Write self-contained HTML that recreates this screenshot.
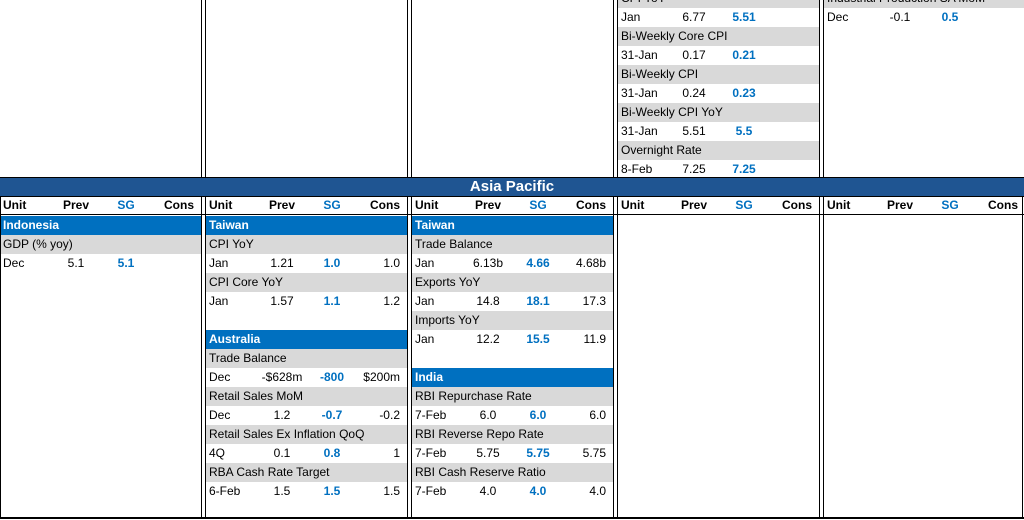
<!DOCTYPE html>
<html><head><meta charset="utf-8"><style>
body{margin:0;width:1024px;height:520px;overflow:hidden;background:#fff;font-family:"Liberation Sans",Arial,sans-serif;font-size:12px;color:#000;position:relative}
.r{position:absolute;height:19px;line-height:19px;width:201px;white-space:nowrap}
.g{background:#d9d9d9}
.b{background:#0070c0;color:#fff;font-weight:bold}
.c{position:absolute;top:0}
.sg{color:#0070c0;font-weight:bold}
.h{font-weight:bold}
.vl{position:absolute;width:1px;background:#000}
.hl{position:absolute;height:1px;background:#000;left:0;width:1024px}
</style></head><body>
<div style="position:absolute;left:0;top:177px;width:1024px;height:19px;background:#1f5592;color:#fff;font-weight:bold;font-size:15px;text-align:center;line-height:19px">Asia Pacific</div>
<div class="hl" style="top:177px"></div>
<div class="hl" style="top:196px"></div>
<div class="hl" style="top:214px"></div>
<div class="hl" style="top:517px;height:2px"></div>
<script>
var cols=[0,206,412,618,824];
function cell(parent,txt,left,align,cls){
  var s=document.createElement('span');
  s.className='c '+(cls||'');
  s.textContent=txt;
  if(align==='c'){s.style.left=(left-30)+'px';s.style.width='60px';s.style.textAlign='center';}
  else if(align==='r'){s.style.left=(left-80)+'px';s.style.width='80px';s.style.textAlign='right';}
  else s.style.left=left+'px';
  
  
  parent.appendChild(s);
}
function row(ci,y,type,vals){
  var d=document.createElement('div');
  d.className='r '+(type==='g'?'g':type==='b'?'b':'');
  d.style.left=cols[ci]+'px';d.style.top=y+'px';
  
  
  if(type==='g'||type==='b'){cell(d,vals,3,'l');}
  else{
    var hc=type==='h'?'h':'';
    cell(d,vals[0],3,'l',hc);
    cell(d,vals[1],76,'c',hc);
    cell(d,vals[2],126,'c','sg');
    cell(d,vals[3],194,'r',hc);
  }
  document.body.appendChild(d);
}
// top section
var top4=[['g','CPI YoY'],['v',['Jan','6.77','5.51','']],['g','Bi-Weekly Core CPI'],['v',['31-Jan','0.17','0.21','']],['g','Bi-Weekly CPI'],['v',['31-Jan','0.24','0.23','']],['g','Bi-Weekly CPI YoY'],['v',['31-Jan','5.51','5.5','']],['g','Overnight Rate'],['v',['8-Feb','7.25','7.25','']]];
top4.forEach(function(r,i){row(3,-11+19*i,r[0],r[1]);});
row(4,-11,'g','Industrial Production SA MoM');
row(4,8,'v',['Dec','-0.1','0.5','']);
for(var i=0;i<5;i++)row(i,196,'h',['Unit','Prev','SG','Cons']);
var c0=[['b','Indonesia'],['g','GDP (% yoy)'],['v',['Dec','5.1','5.1','']]];
var c1=[['b','Taiwan'],['g','CPI YoY'],['v',['Jan','1.21','1.0','1.0']],['g','CPI Core YoY'],['v',['Jan','1.57','1.1','1.2']],null,['b','Australia'],['g','Trade Balance'],['v',['Dec','-$628m','-800','$200m']],['g','Retail Sales MoM'],['v',['Dec','1.2','-0.7','-0.2']],['g','Retail Sales Ex Inflation QoQ'],['v',['4Q','0.1','0.8','1']],['g','RBA Cash Rate Target'],['v',['6-Feb','1.5','1.5','1.5']]];
var c2=[['b','Taiwan'],['g','Trade Balance'],['v',['Jan','6.13b','4.66','4.68b']],['g','Exports YoY'],['v',['Jan','14.8','18.1','17.3']],['g','Imports YoY'],['v',['Jan','12.2','15.5','11.9']],null,['b','India'],['g','RBI Repurchase Rate'],['v',['7-Feb','6.0','6.0','6.0']],['g','RBI Reverse Repo Rate'],['v',['7-Feb','5.75','5.75','5.75']],['g','RBI Cash Reserve Ratio'],['v',['7-Feb','4.0','4.0','4.0']]];
[c0,c1,c2].forEach(function(c,ci){c.forEach(function(r,i){if(r)row(ci,216+19*i,r[0],r[1]);});});
// vertical separators
[206,412,618,824].forEach(function(x){
  [x-5,x-1].forEach(function(xx){
    var a=document.createElement('div');a.className='vl';a.style.left=xx+'px';a.style.top='0';a.style.height='177px';
    
    
    document.body.appendChild(a);
    var b=document.createElement('div');b.className='vl';b.style.left=xx+'px';b.style.top='196px';b.style.height='322px';
    
    
    document.body.appendChild(b);
  });
});
[0,1022].forEach(function(xx){
  var b=document.createElement('div');b.className='vl';b.style.left=xx+'px';b.style.top='196px';b.style.height='322px';
  
  
  document.body.appendChild(b);
});
</script>
</body></html>
